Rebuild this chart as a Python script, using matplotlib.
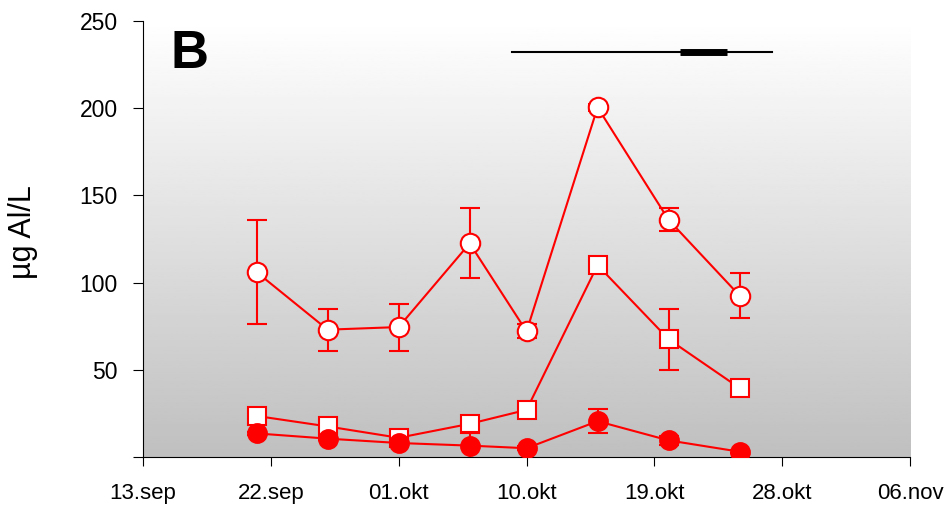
import numpy as np
import matplotlib.pyplot as plt

plt.rcParams['font.family'] = ['Liberation Sans', 'DejaVu Sans']

# sampling days, counted from 13.sep
days = [8, 13, 18, 23, 27, 32, 37, 42]

open_circle = [106, 73, 74.5, 122.5, 72, 200.5, 136, 92.5]
open_circle_err = [30, 12, 13.5, 20, 4, 2, 6.5, 13]

open_square = [23.5, 17.5, 11, 19, 27, 110, 67.5, 39.5]
open_square_err = [1, 1, 1, 1, 1, 1, 17.5, 1]

filled_circle = [13.5, 10.5, 8, 6.5, 5, 20.5, 9.5, 3]
filled_circle_err = [1, 1, 1, 8, 1, 7, 2.5, 1]

tick_days = [0, 9, 18, 27, 36, 45, 54]
tick_labels = ['13.sep', '22.sep', '01.okt', '10.okt', '19.okt', '28.okt', '06.nov']

# period bar at the top
bar_start, bar_end = 26, 44.3
thick_start, thick_end = 37.8, 41.1
bar_level = 232

fig = plt.figure(figsize=(9.5, 5.14), dpi=100)
ax = fig.add_axes([0.1505, 0.111, 0.8075, 0.848])

# grey gradient background
grad = np.linspace(0.75, 1.0, 256).reshape(-1, 1)
ax.imshow(grad, cmap='gray', vmin=0, vmax=1, aspect='auto', origin='lower',
          extent=[0, 1, 0, 1], transform=ax.transAxes, zorder=0)

red = '#ff0000'
ax.errorbar(days, open_circle, yerr=open_circle_err, color=red, lw=1.5,
            marker='o', ms=14, mfc='white', mec=red, mew=1.5,
            capsize=7, capthick=1.5, elinewidth=1.5, zorder=3)
ax.errorbar(days, open_square, yerr=open_square_err, color=red, lw=1.5,
            marker='s', ms=13, mfc='white', mec=red, mew=1.5,
            capsize=7, capthick=1.5, elinewidth=1.5, zorder=4)
ax.errorbar(days, filled_circle, yerr=filled_circle_err, color=red, lw=1.5,
            marker='o', ms=13.5, mfc=red, mec=red, mew=1.5,
            capsize=7, capthick=1.5, elinewidth=1.5, zorder=5)

ax.plot([bar_start, bar_end], [bar_level, bar_level], color='black', lw=1.5, zorder=3)
ax.plot([thick_start, thick_end], [bar_level, bar_level], color='black', lw=5,
        solid_capstyle='butt', zorder=3)

ax.text(1.95, 231, 'B', fontsize=38, fontweight='bold', va='center', ha='left')

ax.set_xlim(0, 54)
ax.set_ylim(0, 250)
ax.set_xticks(tick_days)
ax.set_xticklabels(tick_labels)
ax.set_yticks([0, 50, 100, 150, 200, 250])
ax.set_yticklabels(['', '50', '100', '150', '200', '250'])
ax.tick_params(axis='x', length=6.5, pad=12, labelsize=16)
ax.tick_params(axis='y', length=7, pad=11, labelsize=16.5)
ax.set_ylabel('µg Al/L', fontsize=22)
ax.yaxis.set_label_coords(-0.137, 0.516)

for side in ['top', 'right']:
    ax.spines[side].set_visible(False)

fig.savefig('out.png', dpi=100)
